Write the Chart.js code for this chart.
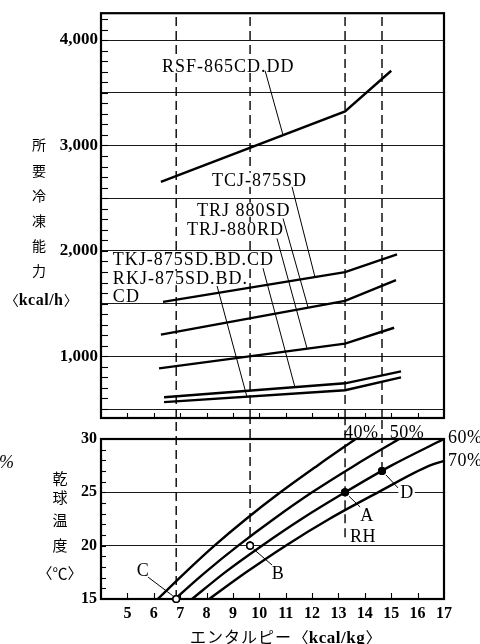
<!DOCTYPE html>
<html lang="ja">
<head>
<meta charset="utf-8">
<title>所要冷凍能力とエンタルピー</title>
<script src="https://cdn.jsdelivr.net/npm/chart.js@4.4.1/dist/chart.umd.min.js"></script>
<style>
html,body{margin:0;padding:0;background:#fff;}
#stage{position:relative;width:480px;height:644px;overflow:hidden;background:#fff;}
#stage canvas{position:absolute;left:0;top:0;}
</style>
</head>
<body>
<div id="stage">
<canvas id="capChart" width="480" height="644"></canvas>
<canvas id="airChart" width="480" height="644"></canvas>
</div>
<script>
// ---------------- values ----------------
const enthalpyTicks = [5,6,7,8,9,10,11,12,13,14,15,16,17];
const capacityGridValues = [500,1000,1500,2000,2500,3000,3500,4000];
const capacityLabelValues = [1000,2000,3000,4000];
const temperatureTicks = [15,20,25,30];

const modelNames = ['RSF-865CD.DD','TCJ-875SD','TRJ 880SD','TRJ-880RD','TKJ-875SD.BD.CD','RKJ-875SD.BD.CD'];
const capRSF   = [[6.27,2655],[13.25,3323],[15.0,3709]];
const capTCJ   = [[6.35,1516],[13.25,1799],[15.22,1968]];
const capTRJSD = [[6.27,1206],[13.25,1526],[15.18,1723]];
const capTRJRD = [[6.2,886],[13.25,1121],[15.11,1271]];
const capTKJ   = [[6.39,612],[13.25,744],[15.37,857]];
const capRKJ   = [[6.39,566],[13.25,678],[15.37,801]];

const rhNames = ['40%','50%','60%','70%'];
const rh40 = [[6.15,15],[7.2,17.5],[8.3,20],[9.5,22.5],[10.8,25],[12.2,27.5],[13.65,30]];
const rh50 = [[6.8,15],[7.95,17.5],[9.2,20],[10.55,22.5],[12.0,25],[13.6,27.5],[15.3,30]];
const rh60 = [[7.45,15],[8.7,17.5],[10.1,20],[11.6,22.5],[13.25,25],[15.0,27.5],[17.0,30]];
const rh70 = [[8.1,15],[9.5,17.5],[11.0,20],[12.65,22.5],[14.5,25],[16.45,27.5],[17.0,27.95]];

const stateNames = ['A','B','C','D'];
const stateEnthalpy = [13.25,9.65,6.85,14.65];
const stateTemp = [25,20,15,27];
const guideLowTemp = [20.8,19.6,15,27];

// ---------------- axis ranges ----------------
const X_MIN = 4, X_MAX = 17;
const CAP_MIN = 415, CAP_MAX = 4255;
const T_MIN = 15, T_MAX = 30;

// ---------------- styles / annotation layout ----------------
const SERIF = '"Liberation Serif","DejaVu Serif",serif';
const JP = '"Noto Sans CJK JP","Noto Sans CJK SC",sans-serif';
const stateFilled = [true,false,false,true];

const capLabels = [
  {t:'RSF-865CD.DD',    x:6.31, y:3756},
  {t:'TCJ-875SD',       x:8.21, y:2674},
  {t:'TRJ 880SD',       x:7.64, y:2391},
  {t:'TRJ-880RD',       x:7.26, y:2203},
  {t:'TKJ-875SD.BD.CD', x:4.45, y:1921},
  {t:'RKJ-875SD.BD.',   x:4.45, y:1742},
  {t:'CD',              x:4.45, y:1573}
];
const capLeaders = [
  [10.22,3709,10.9,3098],
  [11.24,2608,12.11,1752],
  [10.90,2307,11.85,1462],
  [10.67,2118,11.81,1073],
  [10.14,1836,11.35,707],
  [8.40,1667,9.53,617]
];
const airLabels = [
  {t:'40%', x:13.86, y:30.66, align:'center', bg:false},
  {t:'50%', x:15.6,  y:30.66, align:'center', bg:false},
  {t:'60%', x:17.15, y:30.19, align:'left', bg:false},
  {t:'70%', x:17.15, y:28.03, align:'left', bg:false},
  {t:'C',   x:5.59,  y:17.72, align:'center', bg:true},
  {t:'B',   x:10.71, y:17.44, align:'center', bg:true},
  {t:'A',   x:14.08, y:22.88, align:'center', bg:true},
  {t:'D',   x:15.6,  y:25.03, align:'center', bg:true},
  {t:'RH',  x:13.44, y:20.91, align:'left', bg:true}
];
const airLeaders = [
  [13.40,24.63,13.82,23.63],
  [9.78,19.68,10.48,18.19],
  [5.78,17.06,6.72,15.3],
  [14.80,26.63,15.26,25.41]
];

function pts(arr){ return arr.map(([x,y]) => ({x, y})); }

function putText(ctx, text, px, cy, o){
  ctx.save();
  ctx.font = o.font;
  try { ctx.letterSpacing = o.ls || '0px'; } catch(e) {}
  ctx.textBaseline = 'alphabetic';
  ctx.textAlign = 'left';
  const w = ctx.measureText(text).width;
  const left = o.align === 'center' ? px - w/2 : (o.align === 'right' ? px - w : px);
  const base = cy + o.size * 0.33;
  if (o.bg) {
    ctx.fillStyle = '#fff';
    ctx.fillRect(left - 2, base - o.size*0.72, w + 3, o.size*0.78);
  }
  ctx.fillStyle = '#000';
  ctx.fillText(text, left, base);
  ctx.restore();
  return left + w;
}
function putJP(ctx, text, cx, cy, size){
  ctx.save();
  ctx.font = size + 'px ' + JP;
  ctx.textAlign = 'center';
  ctx.textBaseline = 'middle';
  ctx.fillStyle = '#000';
  ctx.fillText(text, cx, cy);
  ctx.restore();
}
// unit text like 〈kcal/h〉: CJK brackets around a serif unit
function putUnit(ctx, unit, left, cy, jpSize, serifSize){
  ctx.save();
  ctx.fillStyle = '#000';
  ctx.textBaseline = 'middle';
  ctx.font = jpSize + 'px ' + JP;
  const bw = ctx.measureText('〈').width;
  ctx.fillText('〈', left - bw*0.45, cy);
  let cx = left + bw*0.55;
  ctx.font = 'bold ' + serifSize + 'px ' + SERIF;
  try { ctx.letterSpacing = '0.5px'; } catch(e) {}
  ctx.textBaseline = 'alphabetic';
  ctx.fillText(unit, cx, cy + serifSize*0.33);
  cx += ctx.measureText(unit).width + 1;
  try { ctx.letterSpacing = '0px'; } catch(e) {}
  ctx.font = jpSize + 'px ' + JP;
  ctx.textBaseline = 'middle';
  ctx.fillText('〉', cx - bw*0.05, cy);
  ctx.restore();
}
function seg(ctx, x1, y1, x2, y2, lw){
  ctx.save();
  ctx.strokeStyle = '#000';
  ctx.lineWidth = lw;
  ctx.beginPath(); ctx.moveTo(x1, y1); ctx.lineTo(x2, y2); ctx.stroke();
  ctx.restore();
}

// ---------------- upper chart: required refrigerating capacity ----------------
const capDecor = {
  id: 'capDecor',
  afterDatasetsDraw(chart){
    const {ctx, chartArea:a, scales:{x, y}} = chart;
    for (let v = Math.ceil(CAP_MIN/100)*100; v <= CAP_MAX; v += 100) {
      const py = Math.round(y.getPixelForValue(v)) + 0.5;
      seg(ctx, a.left, py, a.left + 7, py, 1.1);
    }
    enthalpyTicks.forEach(v => {
      if (v >= X_MAX) return;
      const px = Math.round(x.getPixelForValue(v)) + 0.5;
      seg(ctx, px, a.bottom, px, a.bottom - 5, 1.1);
    });
    ctx.save();
    ctx.strokeStyle = '#000'; ctx.lineWidth = 2.2;
    ctx.strokeRect(a.left, a.top, a.right - a.left, a.bottom - a.top);
    ctx.restore();
  },
  afterDraw(chart){
    const {ctx, scales:{x, y}} = chart;
    capLabels.forEach(l => putText(ctx, l.t, x.getPixelForValue(l.x), y.getPixelForValue(l.y),
      {font: '18px ' + SERIF, size:18, ls:'1px', bg:true}));
    capLeaders.forEach(s => seg(ctx, x.getPixelForValue(s[0]), y.getPixelForValue(s[1]),
      x.getPixelForValue(s[2]), y.getPixelForValue(s[3]), 1));
    // vertical axis title
    const title = '所要冷凍能力';
    for (let i = 0; i < title.length; i++) putJP(ctx, title[i], 39, 145 + i*25.2, 14);
    putUnit(ctx, 'kcal/h', 11, 300, 14, 16);
  }
};

const capSeries = [capRSF, capTCJ, capTRJSD, capTRJRD, capTKJ, capRKJ];
const capDatasets = capSeries.map((s, i) => ({
  label: modelNames[i], data: pts(s),
  borderColor: '#000', borderWidth: 2.4, pointRadius: 0, tension: 0, fill: false
}));
stateEnthalpy.forEach((v, i) => capDatasets.push({
  label: 'guide ' + stateNames[i], data: [{x:v, y:CAP_MIN}, {x:v, y:CAP_MAX}],
  borderColor: '#000', borderWidth: 1.4, borderDash: [9,5], pointRadius: 0, fill: false
}));

new Chart(document.getElementById('capChart'), {
  type: 'line',
  data: { datasets: capDatasets },
  options: {
    responsive: false, animation: false, devicePixelRatio: 1, events: [],
    layout: { padding: { left: 0, top: 10, right: 36, bottom: 226 } },
    plugins: { legend: { display: false }, tooltip: { enabled: false } },
    scales: {
      x: { type: 'linear', min: X_MIN, max: X_MAX, display: false },
      y: {
        type: 'linear', min: CAP_MIN, max: CAP_MAX,
        afterFit(s){ s.width = 101; },
        afterBuildTicks(s){ s.ticks = capacityGridValues.map(v => ({value: v})); },
        border: { display: false },
        grid: { drawTicks: false, color: '#1a1a1a', lineWidth: 1 },
        ticks: {
          padding: 3, color: '#000', autoSkip: false,
          font: { family: SERIF, size: 17, weight: 'bold' },
          callback: v => capacityLabelValues.includes(v) ? v.toLocaleString('en-US') : ''
        }
      }
    }
  },
  plugins: [capDecor]
});

// ---------------- lower chart: dry-bulb temperature vs enthalpy ----------------
const airDecor = {
  id: 'airDecor',
  afterDatasetsDraw(chart){
    const {ctx, chartArea:a, scales:{x, y}} = chart;
    for (let v = T_MIN + 1; v < T_MAX; v++) {
      const py = Math.round(y.getPixelForValue(v)) + 0.5;
      seg(ctx, a.left, py, a.left + 5, py, 1.1);
    }
    enthalpyTicks.forEach(v => {
      if (v >= X_MAX) return;
      const px = Math.round(x.getPixelForValue(v)) + 0.5;
      seg(ctx, px, a.bottom, px, a.bottom - 6, 1.1);
    });
    ctx.save();
    ctx.strokeStyle = '#000'; ctx.lineWidth = 2.2;
    ctx.strokeRect(a.left, a.top, a.right - a.left, a.bottom - a.top);
    ctx.restore();
  },
  afterDraw(chart){
    const {ctx, scales:{x, y}} = chart;
    airLeaders.forEach(s => seg(ctx, x.getPixelForValue(s[0]), y.getPixelForValue(s[1]),
      x.getPixelForValue(s[2]), y.getPixelForValue(s[3]), 1));
    airLabels.forEach(l => putText(ctx, l.t, x.getPixelForValue(l.x), y.getPixelForValue(l.y),
      {font: '18px ' + SERIF, size:18, ls:'0.5px', align:l.align, bg:l.bg}));
    // state markers redrawn on top of leaders
    const meta = chart.getDatasetMeta(0);
    meta.data.forEach(el => el.draw(ctx));
    // stray mark at the left margin of the scan
    putText(ctx, '%', -1, 462, {font: 'italic 18px ' + SERIF, size:18});
    // vertical axis title
    const title = '乾球温度';
    const ys = [478, 497, 520, 545];
    for (let i = 0; i < title.length; i++) putJP(ctx, title[i], 60, ys[i], 15);
    putJP(ctx, '〈℃〉', 60, 573, 15);
    // x axis title
    ctx.save();
    ctx.font = '16px ' + JP; ctx.textBaseline = 'middle'; ctx.fillStyle = '#000';
    try { ctx.letterSpacing = '1px'; } catch(e) {}
    ctx.fillText('エンタルピー', 190, 637);
    const w = ctx.measureText('エンタルピー').width;
    ctx.restore();
    putUnit(ctx, 'kcal/kg', 190 + w + 8, 637, 16, 17);
  }
};

const airDatasets = [];
airDatasets.push({
  label: 'states', data: stateEnthalpy.map((v, i) => ({x: v, y: stateTemp[i]})),
  showLine: false, pointRadius: 3.3, pointBorderWidth: 1.5, pointBorderColor: '#000',
  pointBackgroundColor: stateFilled.map(f => f ? '#000' : '#fff'), clip: false
});
[rh40, rh50, rh60, rh70].forEach((s, i) => airDatasets.push({
  label: rhNames[i], data: pts(s),
  borderColor: '#000', borderWidth: 2.4, pointRadius: 0,
  cubicInterpolationMode: 'monotone', fill: false
}));
stateEnthalpy.forEach((v, i) => airDatasets.push({
  label: 'guide ' + stateNames[i], data: [{x:v, y:guideLowTemp[i]}, {x:v, y:T_MAX + 2}],
  borderColor: '#000', borderWidth: 1.4, borderDash: [9,5], pointRadius: 0, fill: false, clip: false
}));

new Chart(document.getElementById('airChart'), {
  type: 'line',
  data: { datasets: airDatasets },
  options: {
    responsive: false, animation: false, devicePixelRatio: 1, events: [],
    layout: { padding: { left: 0, top: 439, right: 36, bottom: 0 } },
    plugins: { legend: { display: false }, tooltip: { enabled: false } },
    scales: {
      x: {
        type: 'linear', min: X_MIN, max: X_MAX,
        afterFit(s){ s.height = 45; },
        afterBuildTicks(s){ s.ticks = enthalpyTicks.map(v => ({value: v})); },
        border: { display: false },
        grid: { display: false, drawTicks: false },
        ticks: { padding: 5, color: '#000', autoSkip: false, maxRotation: 0,
          font: { family: SERIF, size: 16, weight: 'bold' } }
      },
      y: {
        type: 'linear', min: T_MIN, max: T_MAX,
        afterFit(s){ s.width = 101; },
        afterBuildTicks(s){ s.ticks = temperatureTicks.map(v => ({value: v})); },
        border: { display: false },
        grid: { drawTicks: false, lineWidth: 1,
          color: c => (c.tick && c.tick.value > T_MIN && c.tick.value < T_MAX) ? '#1a1a1a' : 'rgba(0,0,0,0)' },
        ticks: { padding: 4, color: '#000', autoSkip: false,
          font: { family: SERIF, size: 16, weight: 'bold' } }
      }
    }
  },
  plugins: [airDecor]
});
</script>
</body>
</html>
